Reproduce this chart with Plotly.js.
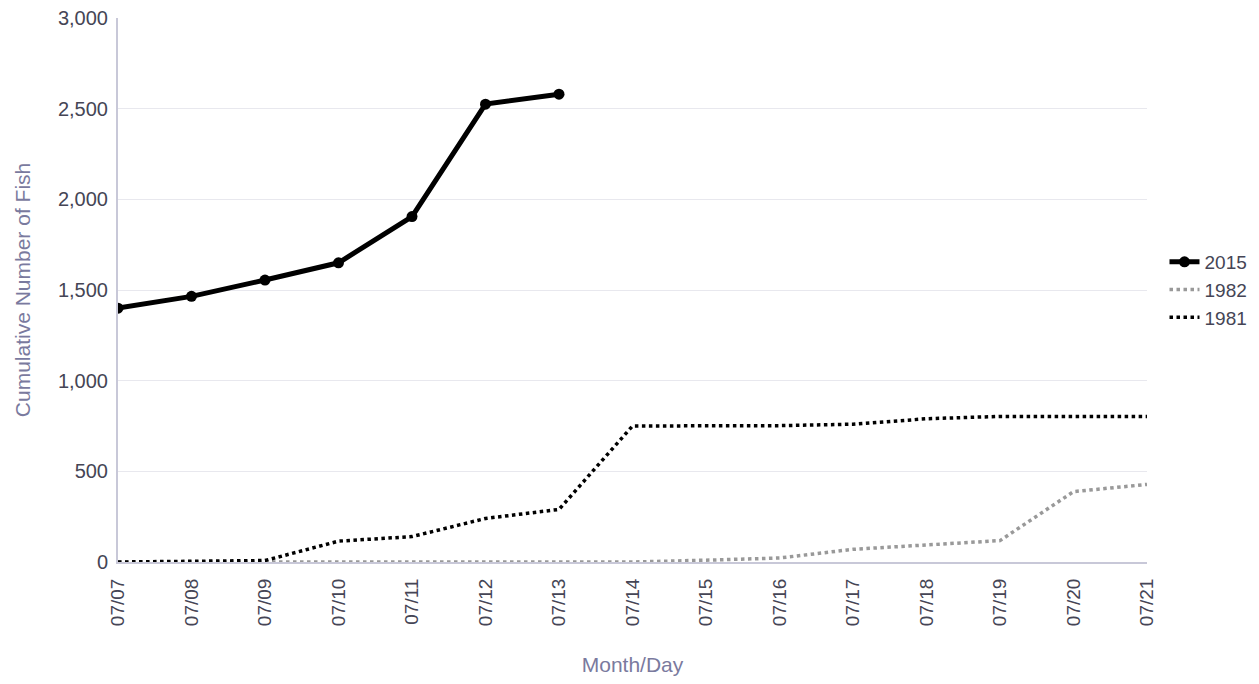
<!DOCTYPE html>
<html>
<head>
<meta charset="utf-8">
<script src="https://cdn.plot.ly/plotly-3.0.1.min.js"></script>
<style>html,body{margin:0;padding:0;background:#fff;}#chart{width:1259px;height:684px;}</style>
</head>
<body>
<div id="chart"></div>
<script>
const days = ["07/07","07/08","07/09","07/10","07/11","07/12","07/13","07/14","07/15","07/16","07/17","07/18","07/19","07/20","07/21"];
const days2015 = ["07/07","07/08","07/09","07/10","07/11","07/12","07/13"];
const fish2015 = [1400, 1465, 1555, 1650, 1905, 2525, 2580];
const fish1982 = [0, 0, 0, 0, 0, 0, 0, 0, 10, 22, 70, 96, 118, 388, 428];
const fish1981 = [0, 5, 8, 115, 140, 240, 290, 750, 750, 752, 760, 790, 803, 803, 803];

const traces = [
  {x: days2015, y: fish2015, name: "2015", type: "scatter", mode: "lines+markers",
   line: {color: "#000000", width: 5}, marker: {color: "#000000", size: 11}},
  {x: days, y: fish1982, name: "1982", type: "scatter", mode: "lines",
   line: {color: "#999999", width: 3.5, dash: "dot"}},
  {x: days, y: fish1981, name: "1981", type: "scatter", mode: "lines",
   line: {color: "#000000", width: 3.5, dash: "dot"}}
];

const layout = {
  width: 1259, height: 684,
  margin: {l: 118, r: 112, t: 18, b: 122, autoexpand: false},
  paper_bgcolor: "#ffffff", plot_bgcolor: "#ffffff",
  font: {family: "Liberation Sans, Arial, sans-serif", size: 20, color: "#454555"},
  showlegend: true,
  legend: {x: 1.017, y: 0.5, xanchor: "left", yanchor: "middle",
    font: {size: 19, color: "#454555"}, tracegroupgap: 0, itemwidth: 30},
  xaxis: {
    type: "category", categoryorder: "array", categoryarray: days,
    range: [0, days.length - 1],
    tickangle: -90, showgrid: false, zeroline: false,
    showline: true, linecolor: "#c8c8d8", linewidth: 2,
    ticks: "", ticklabelstandoff: 7, tickfont: {size: 19, color: "#454555"},
    title: {text: "Month/Day", font: {size: 21, color: "#7a7a9e"}, standoff: 32}
  },
  yaxis: {
    range: [0, 3000], dtick: 500, tickformat: ",d",
    showgrid: true, gridcolor: "#e8e8ee", gridwidth: 1,
    zeroline: false, showline: true, linecolor: "#c8c8d8", linewidth: 2,
    ticks: "", ticklabelstandoff: 4, tickfont: {size: 20, color: "#454555"},
    title: {text: "Cumulative Number of Fish", font: {size: 21, color: "#7a7a9e"}, standoff: 22}
  }
};

Plotly.newPlot("chart", traces, layout, {displayModeBar: false, staticPlot: true});
</script>
</body>
</html>
